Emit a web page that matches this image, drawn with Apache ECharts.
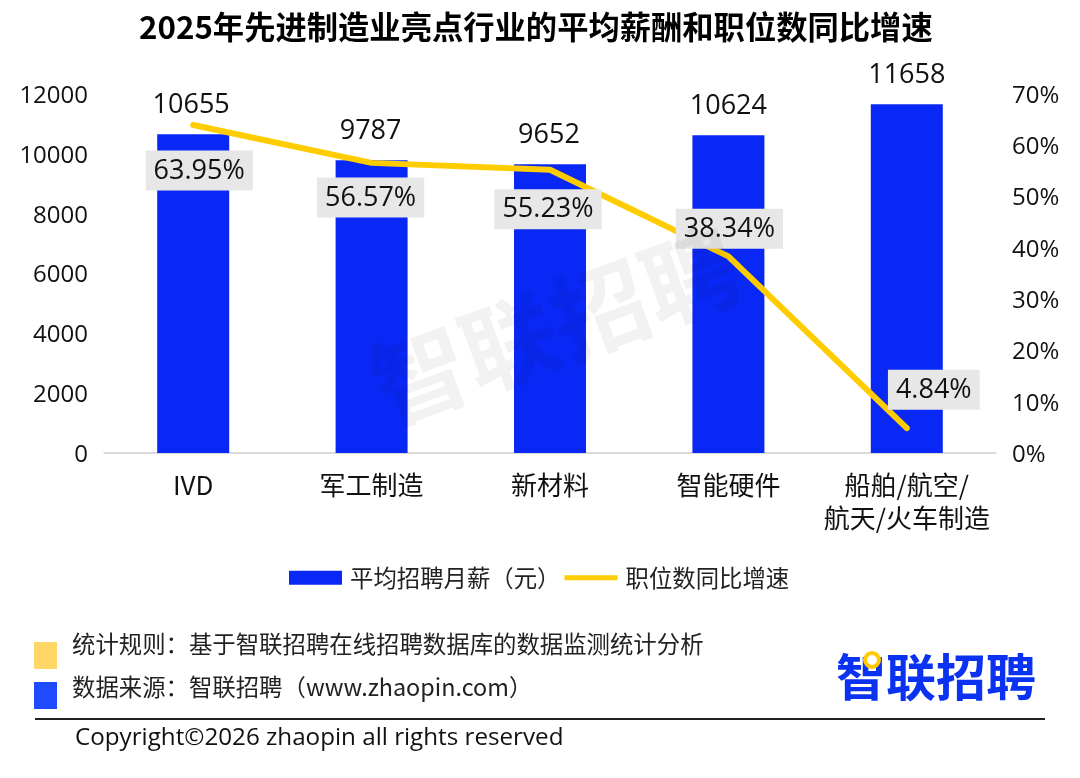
<!DOCTYPE html>
<html>
<head>
<meta charset="UTF-8">
<title>2025年先进制造业亮点行业的平均薪酬和职位数同比增速</title>
<script src="https://cdn.jsdelivr.net/npm/echarts@6/dist/echarts.min.js"></script>
<style>
  html, body { margin: 0; padding: 0; background: #fff; }
  #main { width: 1080px; height: 778px; }
</style>
</head>
<body>
<div id="main"></div>
<script>
  var categories = ['IVD', '军工制造', '新材料', '智能硬件', '船舶/航空/\n航天/火车制造'];
  var salary = [10655, 9787, 9652, 10624, 11658];
  var growth = [63.95, 56.57, 55.23, 38.34, 4.84];
  var salaryTicks = [0, 12000, 2000];
  var growthTicks = [0, 70, 10];
  // 标签相对默认位置的偏移
  var growthLabelOffset = [[6, 66], [-1, 55], [-2, 60], [1, -7], [27, -18]];
  var salaryLabelOffset = [[-2, 0], [-1, 0], [-1, 0], [0, 0], [0, 0]];

  var font = '"Open Sans", "Noto Sans CJK SC", sans-serif';
  var cjk = '"Noto Sans CJK SC", sans-serif';

  var myChart = echarts.init(document.getElementById('main'), null, { renderer: 'canvas' });

  // 刻度文字略向下移
  var tickRich = { t: { fontFamily: font, fontSize: 24, color: '#111', padding: [4, 0, 0, 0] } };

  var option = {
    backgroundColor: '#fff',
    animation: false,
    title: {
      text: '2025年先进制造业亮点行业的平均薪酬和职位数同比增速',
      left: 134,
      top: 6,
      textStyle: { fontFamily: cjk, fontSize: 31.3, fontWeight: 'bold', color: '#000' }
    },
    grid: { left: 104, right: 84, top: 94, bottom: 325 },
    legend: {
      top: 561,
      left: 284,
      itemGap: 4,
      itemWidth: 53,
      itemHeight: 14,
      textStyle: { fontFamily: cjk, fontSize: 23.4, color: '#222', padding: [0, 0, 0, 3] },
      data: [
        { name: '平均招聘月薪（元）', icon: 'rect' },
        { name: '职位数同比增速', icon: 'path://M0 0H53V5H0Z' }
      ]
    },
    xAxis: {
      type: 'category',
      data: categories,
      axisTick: { show: false },
      axisLine: { lineStyle: { color: '#d0d0d0', width: 1.5 } },
      axisLabel: { interval: 0, fontFamily: cjk, fontSize: 26, color: '#111', margin: 16, lineHeight: 33 }
    },
    yAxis: [
      {
        type: 'value',
        min: salaryTicks[0], max: salaryTicks[1], interval: salaryTicks[2],
        splitLine: { show: false },
        axisLine: { show: false },
        axisTick: { show: false },
        axisLabel: {
          margin: 16, rich: tickRich,
          formatter: function (v) { return '{t|' + v + '}'; }
        }
      },
      {
        type: 'value',
        min: growthTicks[0], max: growthTicks[1], interval: growthTicks[2],
        splitLine: { show: false },
        axisLine: { show: false },
        axisTick: { show: false },
        axisLabel: {
          margin: 16, rich: tickRich,
          formatter: function (v) { return '{t|' + v + '%}'; }
        }
      }
    ],
    series: [
      {
        name: '平均招聘月薪（元）',
        type: 'bar',
        barWidth: 72,
        itemStyle: { color: '#0a28f5' },
        data: salary.map(function (v, i) {
          return { value: v, label: { offset: salaryLabelOffset[i] } };
        }),
        label: {
          show: true,
          position: 'top',
          distance: 15,
          fontFamily: font,
          fontSize: 27,
          color: '#111'
        }
      },
      {
        name: '职位数同比增速',
        type: 'line',
        yAxisIndex: 1,
        symbol: 'circle',
        symbolSize: 1,
        showSymbol: true,
        lineStyle: { color: '#ffcc00', width: 6, cap: 'round', join: 'round' },
        itemStyle: { color: '#ffcc00' },
        data: growth.map(function (v, i) {
          return { value: v, label: { offset: growthLabelOffset[i] } };
        }),
        label: {
          show: true,
          position: 'top',
          distance: 0,
          fontFamily: font,
          fontSize: 27,
          color: '#111',
          backgroundColor: '#e7e7e7',
          padding: [7, 8, 6, 8],
          formatter: function (p) { return p.value.toFixed(2) + '%'; }
        }
      }
    ],
    graphic: [
      // 水印
      {
        type: 'text', x: 555, y: 326, rotation: 20 * Math.PI / 180, z: 100, silent: true,
        style: {
          text: '智联招聘', fill: 'rgba(0,0,0,0.05)', font: 'bold 96px ' + cjk,
          align: 'center', verticalAlign: 'middle'
        }
      },
      { type: 'rect', shape: { x: 34, y: 642, width: 23, height: 27 }, style: { fill: '#ffd766' } },
      { type: 'rect', shape: { x: 34, y: 682, width: 23, height: 27 }, style: { fill: '#1f4bff' } },
      {
        type: 'text', x: 72, y: 644, style: {
          text: '统计规则：基于智联招聘在线招聘数据库的数据监测统计分析', fill: '#222',
          font: '23.4px ' + cjk, verticalAlign: 'middle'
        }
      },
      {
        type: 'text', x: 72, y: 687, style: {
          text: '数据来源：智联招聘（www.zhaopin.com）', fill: '#222',
          font: '23.4px ' + cjk, verticalAlign: 'middle'
        }
      },
      {
        type: 'text', x: 836, y: 677, style: {
          text: '智联招聘', fill: '#0a32f0', font: 'bold 50px ' + cjk, verticalAlign: 'middle'
        }
      },
      { type: 'circle', shape: { cx: 872, cy: 660, r: 7 }, style: { fill: '#fff', stroke: '#ffc800', lineWidth: 4 } },
      { type: 'line', shape: { x1: 35, y1: 719, x2: 1045, y2: 719 }, style: { stroke: '#222', lineWidth: 2 } },
      {
        type: 'text', x: 75, y: 738, style: {
          text: 'Copyright©2026 zhaopin all rights reserved', fill: '#111',
          font: '24.2px ' + font, verticalAlign: 'middle'
        }
      }
    ]
  };

  myChart.setOption(option);
</script>
</body>
</html>
